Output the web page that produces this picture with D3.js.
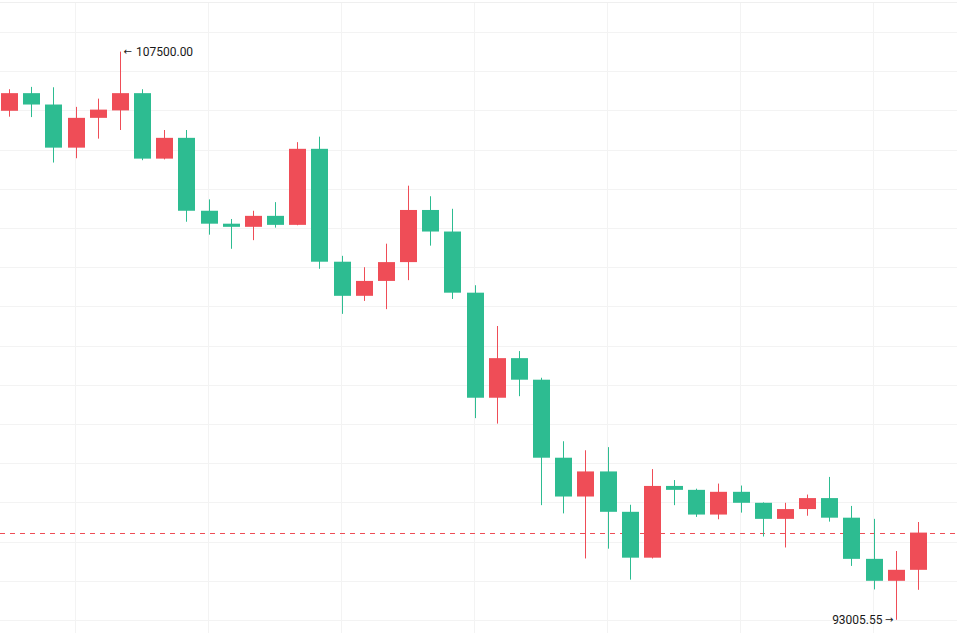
<!DOCTYPE html>
<html>
<head>
<meta charset="utf-8">
<script src="https://cdn.jsdelivr.net/npm/d3@7"></script>
<style>
  html, body { margin: 0; padding: 0; background: #ffffff; overflow: hidden; }
  svg { display: block; }
</style>
</head>
<body>
<svg id="chart" width="957" height="633"></svg>
<script>
// 4-hour candles (time of candle open)
const times = [
  "D1 12:00", "D1 16:00", "D1 20:00",
  "D2 00:00", "D2 04:00", "D2 08:00", "D2 12:00", "D2 16:00", "D2 20:00",
  "D3 00:00", "D3 04:00", "D3 08:00", "D3 12:00", "D3 16:00", "D3 20:00",
  "D4 00:00", "D4 04:00", "D4 08:00", "D4 12:00", "D4 16:00", "D4 20:00",
  "D5 00:00", "D5 04:00", "D5 08:00", "D5 12:00", "D5 16:00", "D5 20:00",
  "D6 00:00", "D6 04:00", "D6 08:00", "D6 12:00", "D6 16:00", "D6 20:00",
  "D7 00:00", "D7 04:00", "D7 08:00", "D7 12:00", "D7 16:00", "D7 20:00",
  "D8 00:00", "D8 04:00", "D8 08:00"
];
const opens = [
  105990, 106440, 106150, 105050, 105810, 106000, 106440, 104770, 105300, 103440,
  103110, 103030, 103310, 103080, 105020, 102140, 101270, 101650, 102130, 103460,
  102910, 101350, 98670, 99680, 99130, 97140, 96150, 96790, 95760, 94590,
  96420, 96320, 95690, 96270, 95990, 95580, 95830, 96110, 95610, 94560,
  94000, 94280
];
const highs = [
  106540, 106600, 106590, 106090, 106300, 107500, 106540, 105500, 105500, 103730,
  103230, 103440, 103660, 105190, 105330, 102290, 102000, 102600, 104080, 103810,
  103490, 101540, 100500, 99860, 99180, 97560, 97330, 97410, 95940, 96850,
  96570, 96350, 96480, 96430, 96000, 95990, 96200, 96650, 95910, 95580,
  94760, 95500
];
const lows = [
  105840, 105830, 104670, 104780, 105280, 105500, 104730, 104750, 103160, 102830,
  102470, 102690, 103010, 103070, 101960, 100810, 101140, 100930, 101670, 102550,
  101190, 98150, 98010, 98710, 95930, 95720, 94570, 94820, 94030, 94570,
  95930, 95630, 95570, 95740, 95130, 94850, 95660, 95510, 94380, 93780,
  93005.55, 93770
];
const closes = [
  106440, 106150, 105050, 105810, 106020, 106440, 104770, 105300, 103440, 103110,
  103030, 103310, 103080, 105020, 102140, 101270, 101650, 102130, 103460, 102910,
  101350, 98670, 99680, 99130, 97140, 96150, 96790, 95760, 94590, 96420,
  96320, 95690, 96270, 95990, 95580, 95830, 96110, 95610, 94560, 94000,
  94280, 95230
];
const priceLevels = [
  93000, 94000, 95000, 96000, 97000, 98000, 99000, 100000,
  101000, 102000, 103000, 104000, 105000, 106000, 107000, 108000
];

const W = 957, H = 633;
const riseColor = "#ef4d57";   // close > open
const fallColor = "#2dbc91";   // close < open
const gridColor = "#f3f3f3";

const candles = times.map((t, i) => ({
  t, o: opens[i], h: highs[i], l: lows[i], c: closes[i]
}));

const svg = d3.select("#chart");
svg.append("rect").attr("width", W).attr("height", H).attr("fill", "#ffffff");

const x = d3.scalePoint().domain(times).range([9, 918]);
const y = d3.scaleLinear().domain([93000, 108000]).range([620, 32]);

// horizontal grid
const grid = svg.append("g");
grid.selectAll("line.h").data(priceLevels).join("line")
  .attr("class", "h")
  .attr("x1", 0).attr("x2", W)
  .attr("y1", d => Math.round(y(d)) + 0.5)
  .attr("y2", d => Math.round(y(d)) + 0.5)
  .attr("stroke", gridColor).attr("stroke-width", 1);
// top border
grid.append("line")
  .attr("x1", 0).attr("x2", W).attr("y1", 2.5).attr("y2", 2.5)
  .attr("stroke", "#efefef").attr("stroke-width", 1);
// vertical grid at day starts
const dayStarts = times.filter(t => t.endsWith("00:00"));
grid.selectAll("line.v").data(dayStarts).join("line")
  .attr("class", "v")
  .attr("x1", d => Math.floor(x(d)) + 0.5)
  .attr("x2", d => Math.floor(x(d)) + 0.5)
  .attr("y1", 3).attr("y2", H)
  .attr("stroke", gridColor).attr("stroke-width", 1);

// last price line
const last = candles[candles.length - 1];
const lastColor = last.c >= last.o ? riseColor : fallColor;
svg.append("line")
  .attr("x1", 0).attr("x2", W)
  .attr("y1", Math.round(y(last.c)) + 0.5)
  .attr("y2", Math.round(y(last.c)) + 0.5)
  .attr("stroke", lastColor).attr("stroke-width", 1)
  .attr("stroke-dasharray", "5,5");

// candles
const bodyW = 17;
const cg = svg.append("g").selectAll("g").data(candles).join("g");
cg.append("rect")
  .attr("x", d => Math.round(x(d.t)))
  .attr("width", 1)
  .attr("y", d => y(d.h))
  .attr("height", d => y(d.l) - y(d.h))
  .attr("fill", d => d.c >= d.o ? riseColor : fallColor);
cg.append("rect")
  .attr("x", d => Math.round(x(d.t)) + 0.5 - bodyW / 2)
  .attr("width", bodyW)
  .attr("y", d => y(Math.max(d.o, d.c)))
  .attr("height", d => Math.max(1, Math.abs(y(d.o) - y(d.c))))
  .attr("fill", d => d.c >= d.o ? riseColor : fallColor);

// high / low markers
const hiIdx = d3.maxIndex(highs);
const loIdx = d3.minIndex(lows);
const font = "Roboto, 'Liberation Sans', Arial, sans-serif";
const arrowFont = "'DejaVu Sans', sans-serif";
const hx = Math.round(x(times[hiIdx])) + 0.5;
const lx = Math.round(x(times[loIdx])) + 0.5;

svg.append("text")
  .attr("x", hx + 3).attr("y", y(highs[hiIdx])).attr("dy", "0.35em")
  .attr("font-family", arrowFont).attr("font-size", 10)
  .attr("fill", "#191919").text("←");
svg.append("text")
  .attr("x", hx + 15.5).attr("y", y(highs[hiIdx])).attr("dy", "0.35em")
  .attr("font-family", font).attr("font-size", 12)
  .attr("fill", "#191919").text(highs[hiIdx].toFixed(2));

svg.append("text")
  .attr("x", lx - 3).attr("y", y(lows[loIdx])).attr("dy", "0.35em")
  .attr("text-anchor", "end")
  .attr("font-family", arrowFont).attr("font-size", 10)
  .attr("fill", "#191919").text("→");
svg.append("text")
  .attr("x", lx - 14).attr("y", y(lows[loIdx])).attr("dy", "0.35em")
  .attr("text-anchor", "end")
  .attr("font-family", font).attr("font-size", 12)
  .attr("fill", "#191919").text(lows[loIdx].toFixed(2));
</script>
</body>
</html>
